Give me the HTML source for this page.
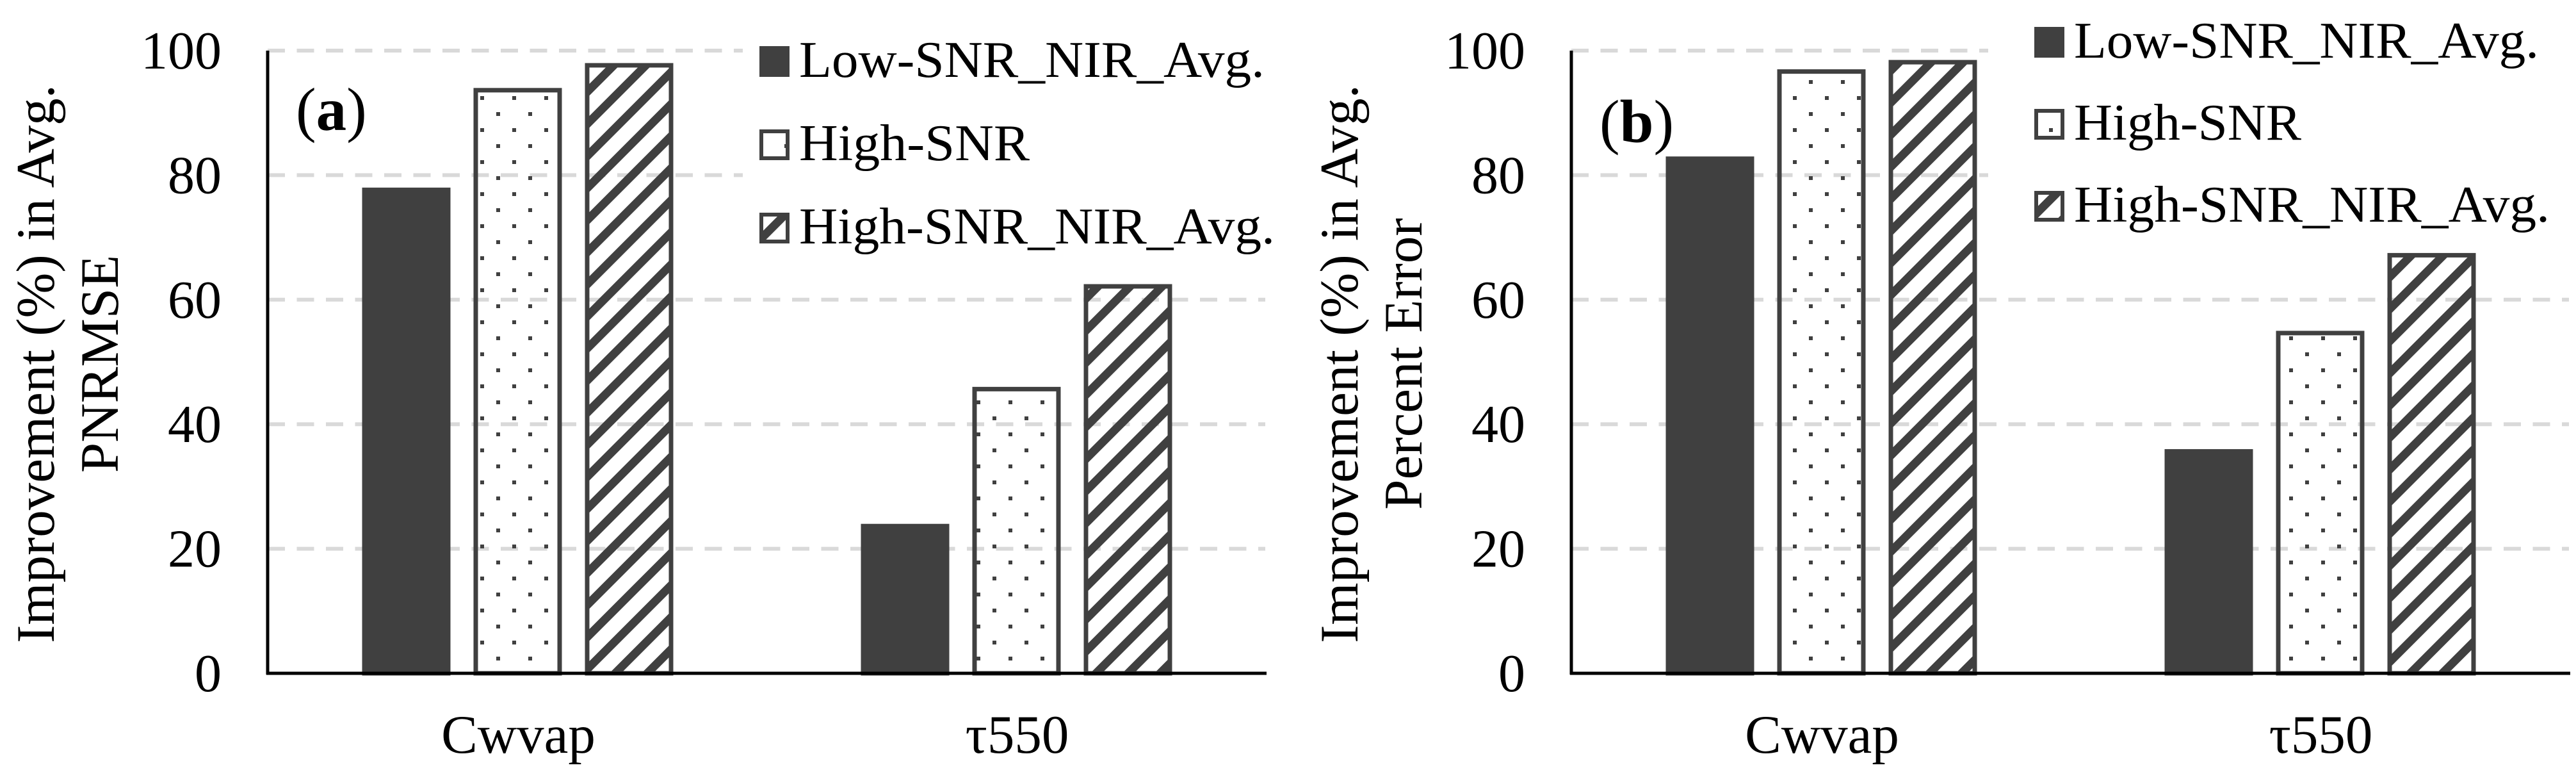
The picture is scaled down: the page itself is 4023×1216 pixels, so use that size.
<!DOCTYPE html>
<html><head><meta charset="utf-8"><style>
html,body{margin:0;padding:0;background:#fff;}
svg{display:block;font-family:"Liberation Serif","Times New Roman",serif;}
</style></head>
<body>
<svg id="chart" width="4023" height="1216" viewBox="0 0 4023 1216" xmlns="http://www.w3.org/2000/svg">
<defs>
<pattern id="dots" patternUnits="userSpaceOnUse" width="50" height="50" x="0" y="0">
<rect x="0" y="0" width="6" height="6" fill="#404040"/>
<rect x="25" y="25" width="6" height="6" fill="#404040"/>
</pattern>
<pattern id="hatch" patternUnits="userSpaceOnUse" width="35.4" height="20" patternTransform="rotate(45)">
<rect x="0" y="0" width="13" height="20" fill="#404040"/>
</pattern>
</defs>
</svg>
<script>
const categories = ["Cwvap", "\u03c4550"];
const seriesNames = ["Low-SNR_NIR_Avg.", "High-SNR", "High-SNR_NIR_Avg."];
const panelAValues = [[78, 24], [94, 46], [98, 62.5]];
const panelBValues = [[83, 36], [97, 55], [98.5, 67.5]];
const yTicks = [0, 20, 40, 60, 80, 100];
const panelLabels = ["(a)", "(b)"];
const titleLine1 = ["Improvement (%) in Avg.", "Improvement (%) in Avg."];
const titleLine2 = ["PNRMSE", "Percent Error"];

const NS = "http://www.w3.org/2000/svg";
const svg = document.getElementById('chart');
function mk(tag, attrs, parent) {
  const e = document.createElementNS(NS, tag);
  for (const k in attrs) e.setAttribute(k, attrs[k]);
  (parent || svg).appendChild(e);
  return e;
}
const fills = ["#404040", "url(#dots)", "url(#hatch)"];
const panels = [
  {x0: 418, values: panelAValues, label: panelLabels[0], labelY: 203, legX: 1186, legY: [72, 202, 332], legBgX: 1160, legTextLen: [727, 360, 743]},
  {x0: 2454, values: panelBValues, label: panelLabels[1], labelY: 222, legX: 3177, legY: [42, 170, 298], legBgX: 3105, legTextLen: [726, 355, 743]}
];
const plotW = 1558, y0 = 1051, yTop = 79;
panels.forEach((p, pi) => {
  const g = mk('g', {});
  
  
  const yScale = v => y0 - (v / 100) * (y0 - yTop);
  const xRight = p.x0 + plotW;
  // gridlines
  yTicks.forEach(t => {
    if (t === 0) return;
    const l = mk('line', {x1: p.x0, x2: xRight, y1: yScale(t), y2: yScale(t), stroke: '#d9d9d9', 'stroke-width': 6, 'stroke-dasharray': '27 18.5'}, g);
    
    
  });
  // tick labels
  yTicks.forEach(t => {
    const tx = mk('text', {x: p.x0 - 72, y: yScale(t) + 28, 'text-anchor': 'end', 'font-size': 84, fill: '#000'}, g);
    tx.textContent = t;
    
    
  });
  // legend background
  const lb = mk('rect', {x: p.legBgX, y: 30, width: xRight - p.legBgX + 20, height: 380, fill: '#fff'}, g);
  
  
  // bars
  const catW = plotW / categories.length;
  const barW = 138, step = 174;
  categories.forEach((c, ci) => {
    const cx = p.x0 + catW * (ci + 0.5);
    p.values.forEach((sv, si) => {
      const v = sv[ci];
      const left = cx + (si - 1) * step - barW / 2 + 1;
      const top = yScale(v);
      const r = mk('rect', {x: left + 3.5, y: top + 3.5, width: barW - 7, height: y0 - top - 3.5, fill: fills[si], stroke: '#404040', 'stroke-width': 7}, g);
      
      
    });
    const lt = mk('text', {x: cx + 2, y: 1175, 'text-anchor': 'middle', 'font-size': 85, fill: '#000'}, g);
    lt.textContent = c;
    
    
  });
  // axes
  const ya = mk('line', {x1: p.x0, x2: p.x0, y1: yTop, y2: y0 + 2, stroke: '#000', 'stroke-width': 5}, g);
  
  
  const xa = mk('line', {x1: p.x0 - 2, x2: xRight + 2, y1: y0, y2: y0, stroke: '#000', 'stroke-width': 5}, g);
  
  
  // panel label
  const pl = mk('text', {x: p.x0 + 44, y: p.labelY, 'font-size': 95, fill: '#000'}, g);
  pl.innerHTML = '(<tspan font-weight="bold">' + p.label.slice(1, 2) + '</tspan>)';
  
  
  // y-axis title
  const off = p.x0 - 418;
  const t1 = mk('text', {x: 0, y: 0, 'text-anchor': 'middle', 'font-size': 85, fill: '#000', transform: 'translate(' + (84 + off) + ',568) rotate(-90)'}, g);
  t1.textContent = titleLine1[pi];
  
  
  const t2 = mk('text', {x: 0, y: 0, 'text-anchor': 'middle', 'font-size': 85, fill: '#000', transform: 'translate(' + (184 + off) + ',568) rotate(-90)'}, g);
  t2.textContent = titleLine2[pi];
  
  
  // legend
  seriesNames.forEach((s, si) => {
    const sq = mk('rect', {x: p.legX + 3, y: p.legY[si] + 3, width: 41, height: 42, fill: fills[si], stroke: '#404040', 'stroke-width': 6}, g);
    
    
    const lt = mk('text', {x: p.legX + 62, y: p.legY[si] + 48, 'font-size': 80, fill: '#000', textLength: p.legTextLen[si], lengthAdjust: 'spacingAndGlyphs'}, g);
    lt.textContent = s;
    
    
  });
});
</script>
</body></html>
